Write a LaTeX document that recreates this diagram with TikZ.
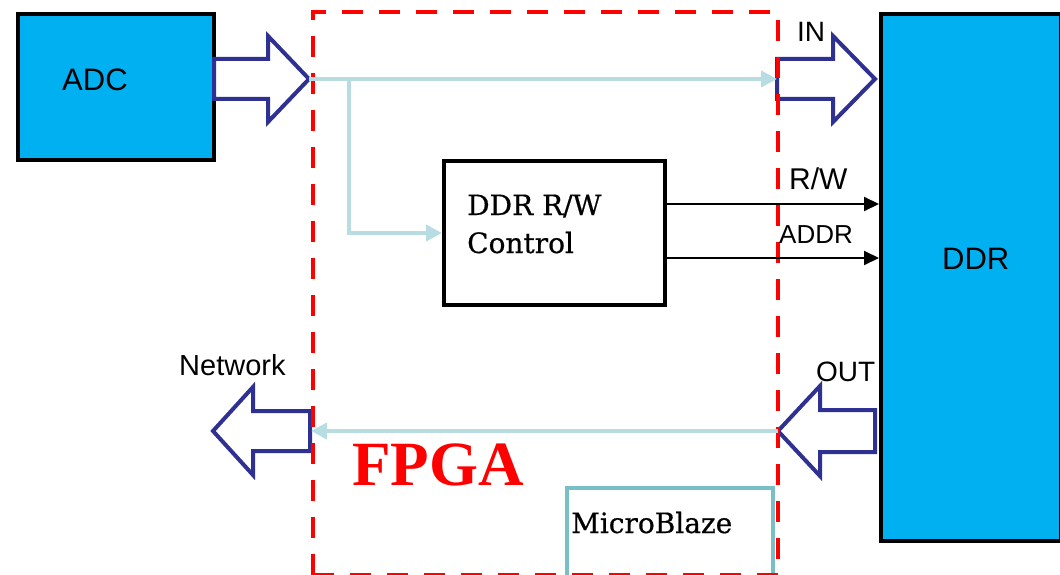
\documentclass[tikz,border=0pt]{standalone}
\usepackage{fontspec}
\setmainfont{Liberation Serif}
\setsansfont{Liberation Sans}
\newfontfamily\slabfont[FakeBold=0.6]{DejaVu Serif}
\usetikzlibrary{arrows.meta}
\definecolor{ddrblue}{HTML}{00B0F0}
\definecolor{navy}{HTML}{2E3192}
\definecolor{busblue}{HTML}{B7DDE2}
\definecolor{mbteal}{HTML}{78C0C6}
\definecolor{fpgared}{HTML}{FF0000}
\tikzset{
  box/.style={draw=black, line width=4pt, rectangle, inner sep=0pt, anchor=north west},
  blockarrow/.style={draw=navy, fill=white, line width=4pt, line join=miter},
  bus/.style={draw=busblue, line width=4pt, -{Triangle[length=16pt,width=16pt]}},
  sig/.style={draw=black, line width=2pt, -{Triangle[length=15pt,width=14pt]}},
  lbl/.style={anchor=base west, inner sep=0pt},
  sanslbl/.style={lbl, font=\sffamily\fontsize{#1}{#1}\selectfont},
  seriflbl/.style={lbl, font=\slabfont\fontsize{28}{28}\selectfont},
}
\begin{document}
\begin{tikzpicture}[x=1pt, y=-1pt]
\useasboundingbox (0,0) rectangle (1060,575);

% main blocks
\node[box, fill=ddrblue, minimum width=196pt, minimum height=146pt] (adc) at (16,12) {};
\node[box, fill=ddrblue, minimum width=180pt, minimum height=527pt] (ddr) at (879,12) {};
\node[box, fill=white, minimum width=221pt, minimum height=144pt] (ctrl) at (442,159) {};
\node[box, draw=mbteal, fill=white, minimum width=206pt, minimum height=100pt] (mb) at (565,486) {};

% wide data-path arrows
\draw[blockarrow] (214,59) -- (268,59) -- (268,36) -- (309,79) -- (268,122) -- (268,99) -- (214,99) -- cycle;
\draw[blockarrow] (777,59) -- (833,59) -- (833,36) -- (875,79) -- (833,122) -- (833,99) -- (777,99) -- cycle;
\draw[blockarrow] (875,410) -- (820,410) -- (820,386) -- (778,431) -- (820,476) -- (820,452) -- (875,452) -- cycle;
\draw[blockarrow] (310,411) -- (253,411) -- (253,387) -- (213,431) -- (253,475) -- (253,451) -- (310,451) -- cycle;

% FPGA boundary
\node[draw=fpgared, line width=4pt, dash pattern=on 21pt off 16pt, rectangle, inner sep=0pt,
      anchor=north west, minimum width=465pt, minimum height=563pt] (fpga) at (311,10) {};

% internal buses
\coordinate (adcout) at (309,79);
\coordinate (ddrin) at (777,79);
\coordinate (tap) at (349,79);
\coordinate (ddrout) at (778,431);
\coordinate (netin) at (311,431);
\draw[bus] (adcout) -- (ddrin);
\draw[bus] (tap) |- (ctrl.west);
\draw[bus] (ddrout) -- (netin);

% control signals
\draw[sig] ([yshift=29pt]ctrl.east) -- ([yshift=29pt]ctrl.east -| ddr.west);
\draw[sig] ([yshift=-25pt]ctrl.east) -- ([yshift=-25pt]ctrl.east -| ddr.west);

% labels
\node[sanslbl=31] (adct) at (62,91) {ADC};
\node[sanslbl=31] (ddrt) at (942,269) {DDR};
\node[sanslbl=28] (int) at (797,42) {IN};
\node[sanslbl=28] (outt) at (816,381) {OUT};
\node[sanslbl=29] (nett) at (179,375) {Network};
\node[sanslbl=30] (rwt) at (789,189) {R/W};
\node[sanslbl=26] (addrt) at (779,243) {ADDR};
\node[seriflbl] (ctrlt1) at (467,215) {DDR R/W};
\node[seriflbl] (ctrlt2) at (467,253) {Control};
\node[seriflbl] (mbt) at (571,533) {MicroBlaze};
\node[lbl, font=\bfseries\fontsize{63}{63}\selectfont, text=fpgared] (fpgat) at (352,485) {FPGA};
\end{tikzpicture}
\end{document}
